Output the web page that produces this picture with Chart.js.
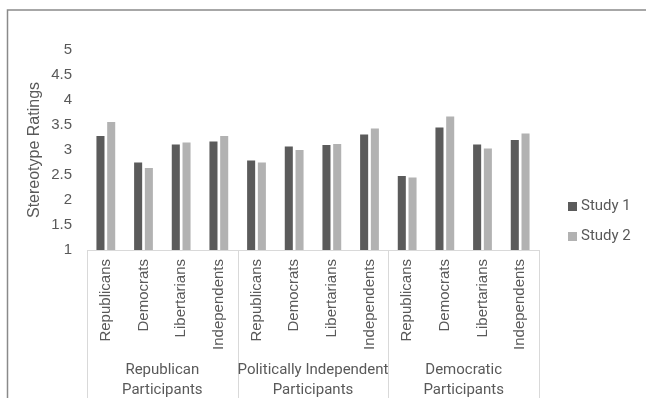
<!DOCTYPE html>
<html>
<head>
<meta charset="utf-8">
<script src="https://cdn.jsdelivr.net/npm/chart.js@4.4.1/dist/chart.umd.min.js"></script>
<style>
    html, body { margin: 0; padding: 0; background: #fff; }
    #wrap { position: relative; width: 646px; height: 398px; }
</style>
</head>
<body>
<div id="wrap"><canvas id="ratingsChart" width="646" height="398"></canvas></div>
<script>
// ------------ data ---------
const categories = [
    'Republicans', 'Democrats', 'Libertarians', 'Independents',
    'Republicans', 'Democrats', 'Libertarians', 'Independents',
    'Republicans', 'Democrats', 'Libertarians', 'Independents'
];
const groupLabels = [
    ['Republican', 'Participants'],
    ['Politically Independent', 'Participants'],
    ['Democratic', 'Participants']
];
const groupSize = 4;
const study1 = [3.28, 2.75, 3.11, 3.17, 2.79, 3.07, 3.10, 3.31, 2.48, 3.45, 3.11, 3.20];
const study2 = [3.56, 2.64, 3.15, 3.28, 2.75, 3.00, 3.12, 3.43, 2.45, 3.67, 3.03, 3.33];
const seriesNames = ['Study 1', 'Study 2'];
const seriesColors = ['#5b5b5b', '#b2b2b2'];
const yMin = 1;
const yMax = 5;
const yStep = 0.5;

const textColor = '#595959';
const lineColor = '#d9d9d9';

// draws the frame, group separators, group labels and legend
const decorPlugin = {
    id: 'decor',
    afterDraw(chart) {
        const ctx = chart.ctx;
        const x = chart.scales.x;
        const step = x.width / categories.length;

        ctx.save();
        // outer frame (top + left only)
        ctx.strokeStyle = '#8a8a8a';
        ctx.lineWidth = 1.5;
        ctx.beginPath();
        ctx.moveTo(7.5, 398);
        ctx.lineTo(7.5, 10);
        ctx.lineTo(646, 10);
        ctx.stroke();

        // group separators
        ctx.strokeStyle = lineColor;
        ctx.lineWidth = 1;
        for (let g = 0; g <= groupLabels.length; g++) {
            const px = Math.round(x.left + g * groupSize * step) + 0.5;
            ctx.beginPath();
            ctx.moveTo(px, x.top);
            ctx.lineTo(px, chart.height);
            ctx.stroke();
        }

        // group labels
        ctx.fillStyle = textColor;
        ctx.font = '15px Roboto, "Liberation Sans", sans-serif';
        ctx.textAlign = 'center';
        ctx.textBaseline = 'middle';
        groupLabels.forEach((lines, g) => {
            const cx = x.left + (g * groupSize + groupSize / 2) * step;
            lines.forEach((line, i) => {
                ctx.fillText(line, cx, 370 + i * 20);
            });
        });

        // legend
        ctx.textAlign = 'left';
        ctx.font = '15px Roboto, "Liberation Sans", sans-serif';
        chart.data.datasets.forEach((ds, i) => {
            const ly = 206 + i * 30;
            ctx.fillStyle = ds.backgroundColor;
            ctx.fillRect(568, ly - 4, 9, 9);
            ctx.fillStyle = textColor;
            ctx.fillText(ds.label, 581, ly);
        });
        ctx.restore();
    }
};

function renderChart() {
    const ctx = document.getElementById('ratingsChart').getContext('2d');
    const datasets = [study1, study2].map((values, i) => {
        return {
            label: seriesNames[i],
            data: values,
            backgroundColor: seriesColors[i],
            borderWidth: 0,
            categoryPercentage: 0.57,
            barPercentage: 0.75
        };
    });

    return new Chart(ctx, {
        type: 'bar',
        data: {
            labels: categories,
            datasets: datasets
        },
        options: {
            responsive: false,
            animation: false,
            layout: {
                padding: { top: 50, right: 107, left: 0, bottom: 0 }
            },
            plugins: {
                legend: { display: false },
                tooltip: { enabled: false }
            },
            scales: {
                x: {
                    grid: { display: false, drawTicks: false },
                    border: { display: true, color: lineColor, width: 1 },
                    ticks: {
                        autoSkip: false,
                        minRotation: 90,
                        maxRotation: 90,
                        padding: 9,
                        color: textColor,
                        font: { family: '"Liberation Sans", Arial, sans-serif', size: 15 }
                    },
                    afterFit: scale => { scale.height = 148; }
                },
                y: {
                    min: yMin,
                    max: yMax,
                    grid: { display: false, drawTicks: false },
                    border: { display: false },
                    ticks: {
                        stepSize: yStep,
                        padding: 15,
                        color: textColor,
                        font: { family: '"Liberation Sans", Arial, sans-serif', size: 15 },
                        callback: value => String(value)
                    },
                    title: {
                        display: true,
                        text: 'Stereotype Ratings',
                        color: textColor,
                        padding: { top: 25, bottom: 0 },
                        font: { family: '"Liberation Sans", Arial, sans-serif', size: 16 }
                    },
                    afterFit: scale => { scale.width = 87; }
                }
            }
        },
        plugins: [decorPlugin]
    });
}

renderChart();
</script>
</body>
</html>
